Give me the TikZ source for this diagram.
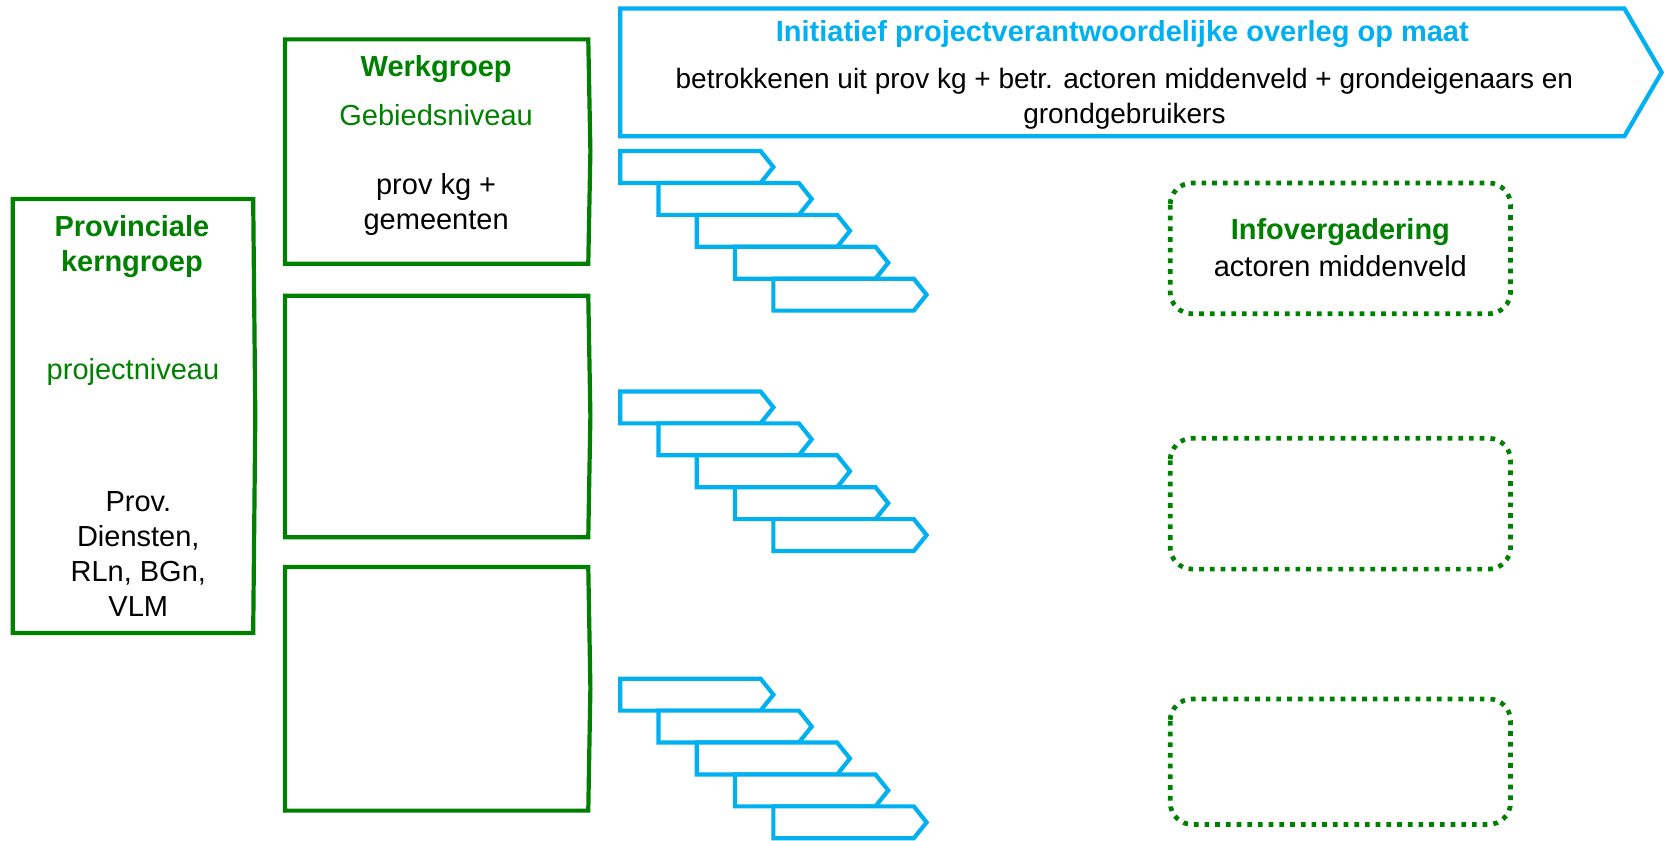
\documentclass[tikz,border=0pt]{standalone}
\usepackage{fontspec}
\setmainfont{Liberation Sans}
\definecolor{kgreen}{RGB}{0,128,0}
\definecolor{kblue}{RGB}{0,176,240}
\tikzset{
  gbox/.style={draw=kgreen, line width=2.1pt},
  bchev/.style={draw=kblue, line width=2.1pt, fill=white, line join=miter},
  dotbox/.style={draw=kgreen, line width=2.35pt, dash pattern=on 2.35pt off 3pt, rounded corners=11pt},
  txt/.style={inner sep=0pt, align=center, font=\fontsize{14.5}{17.5}\selectfont},
  gbold/.style={txt, text=kgreen, font=\fontsize{14.5}{17.5}\selectfont\bfseries},
  greg/.style={txt, text=kgreen},
}
\newcommand{\smallchev}[2]{%
  \draw[bchev] (#1,#2) -- ++(132,0) -- ++(12,15) -- ++(-12,15) -- ++(-132,0) -- cycle;}
\newcommand{\chevgroup}[1]{%
  \smallchev{583}{#1}
  \smallchev{619}{#1+30}
  \smallchev{655}{#1+60}
  \smallchev{691}{#1+90}
  \smallchev{727}{#1+120}}
\begin{document}
\begin{tikzpicture}[x=0.5319pt,y=-0.5319pt]
\useasboundingbox (0,0) rectangle (1568,790.5);
% green boxes
\draw[gbox] (12,187) -- (238,187) -- (240,391) -- (238,595) -- (12,595) -- cycle;
\draw[gbox] (268,37) -- (553,37) -- (555,142) -- (553,248) -- (268,248) -- cycle;
\draw[gbox] (268,278) -- (553,278) -- (555,391) -- (553,505) -- (268,505) -- cycle;
\draw[gbox] (268,533) -- (553,533) -- (555,647) -- (553,762) -- (268,762) -- cycle;
% top chevron
\draw[bchev] (583,8) -- (1527,8) -- (1562,68) -- (1527,128) -- (583,128) -- cycle;
% small chevrons
\chevgroup{142}
\chevgroup{368}
\chevgroup{638}
% dotted boxes
\draw[dotbox] (1100,172) rectangle (1420,295);
\draw[dotbox] (1100,412) rectangle (1420,535);
\draw[dotbox] (1100,657) rectangle (1420,775);
% texts
\node[gbold] (wg) at (410,65) {Werkgroep};
\node[greg] (gn) at (410,108) {Gebiedsniveau};
\node[txt] (pk) at (410,192) {prov kg +\\gemeenten};
\node[gbold] (pkg) at (124,232) {Provinciale\\kerngroep};
\node[greg] (pn) at (125,350) {projectniveau};
\node[txt] (pd) at (130,521) {Prov.\\Diensten,\\RLn, BGn,\\VLM};
\node[txt, text=kblue, font=\fontsize{14.5}{17.5}\selectfont\bfseries] (ti) at (1055,32) {Initiatief projectverantwoordelijke overleg op maat};
\node[txt, font=\fontsize{14}{17.5}\selectfont] (bt) at (1057,93) {betrokkenen uit prov kg + betr. actoren middenveld + grondeigenaars en\\grondgebruikers};
\node[gbold] (iv) at (1260,218) {Infovergadering};
\node[txt] (am) at (1260,250) {actoren middenveld};
\end{tikzpicture}
\end{document}
